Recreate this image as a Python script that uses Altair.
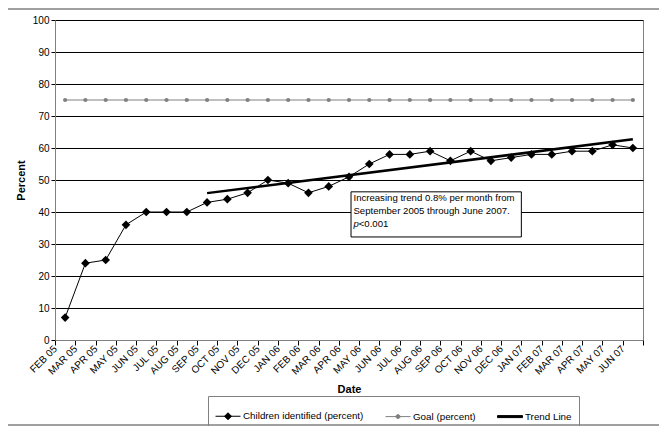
import altair as alt
import pandas as pd

months = ["FEB 05", "MAR 05", "APR 05", "MAY 05", "JUN 05", "JUL 05", "AUG 05", "SEP 05",
          "OCT 05", "NOV 05", "DEC 05", "JAN 06", "FEB 06", "MAR 06", "APR 06", "MAY 06",
          "JUN 06", "JUL 06", "AUG 06", "SEP 06", "OCT 06", "NOV 06", "DEC 06", "JAN 07",
          "FEB 07", "MAR 07", "APR 07", "MAY 07", "JUN 07"]
children = [7, 24, 25, 36, 40, 40, 40, 43, 44, 46, 50, 49, 46, 48, 51, 55,
            58, 58, 59, 56, 59, 56, 57, 58, 58, 59, 59, 61, 60]
goal = [75, 75, 75, 75, 75, 75, 75, 75, 75, 75, 75, 75, 75, 75, 75, 75,
        75, 75, 75, 75, 75, 75, 75, 75, 75, 75, 75, 75, 75]
trend_months = ["SEP 05", "JUN 07"]
trend_values = [45.9, 62.7]

series_names = ["Children identified (percent)", "Goal (percent)", "Trend Line"]
series_colors = ["#000000", "#808080", "#000000"]
legend_paths = [
    "M-1,0H1M0,-0.28L0.28,0L0,0.28L-0.28,0Z",
    "M-1,0H1M0.16,0A0.16,0.16,0,1,1,-0.16,0A0.16,0.16,0,1,1,0.16,0Z",
    "M-1,-0.08H1V0.08H-1Z",
]

note_lines = ["Increasing trend 0.8% per month from", "September 2005 through June 2007."]
note_p = "p"
note_pval = "<0.001"
# annotation anchor (x in month-slot units, y in percent)
note_box = {"x": 14.6, "x2": 23.0, "y": 46.3, "y2": 32.2}
note_text_pos = {"x": 14.72, "y1": 45.9, "y3": 37.8}

FONT = "Liberation Sans"

idx = {m: i for i, m in enumerate(months)}
df = pd.DataFrame({"pos": [i + 0.5 for i in range(len(months))],
                   "month": months, "children": children, "goal": goal})
trend_df = pd.DataFrame({"pos": [idx[m] + 0.5 for m in trend_months], "value": trend_values})
legend_df = pd.DataFrame({"series": series_names})

label_expr = "[" + ",".join("'" + m + "'" for m in months) + "][datum.value] || ''"

x_scale = alt.Scale(domain=[0, len(months)], nice=False, zero=False)
y_scale = alt.Scale(domain=[0, 100], nice=False)

x_axis = alt.Axis(values=list(range(len(months) + 1)), labelExpr=label_expr,
                  labelAngle=-45, labelAlign="right", labelBaseline="middle",
                  labelOverlap=False, labelFlush=False, labelFontSize=10, labelPadding=2,
                  tickSize=5, tickColor="#000000", domainColor="#808080", grid=False,
                  title="Date", titleFontSize=11, titleFontWeight="bold",
                  titleY=52, titleBaseline="alphabetic")
y_axis = alt.Axis(values=list(range(0, 101, 10)), labelFontSize=10, labelFlush=False,
                  labelOverlap=False,
                  tickSize=4, tickColor="#000000", domainColor="#808080",
                  grid=True, gridColor="#000000", gridWidth=1,
                  title="Percent", titleFontSize=11, titleFontWeight="bold", titlePadding=6)


def X(field):
    return alt.X(field, scale=x_scale, axis=x_axis)


def Y(field):
    return alt.Y(field, scale=y_scale, axis=y_axis)


base = alt.Chart(df)

children_line = base.mark_line(color="#000000", strokeWidth=1).encode(
    x=X("pos:Q"), y=Y("children:Q"))
children_pts = base.mark_point(shape="diamond", filled=True, color="#000000", size=75, opacity=1).encode(
    x=X("pos:Q"), y=Y("children:Q"))
goal_line = base.mark_line(color="#808080", strokeWidth=1).encode(x=X("pos:Q"), y=Y("goal:Q"))
goal_pts = base.mark_point(shape="circle", filled=True, color="#808080", size=18, opacity=1).encode(
    x=X("pos:Q"), y=Y("goal:Q"))
trend_line = alt.Chart(trend_df).mark_line(color="#000000", strokeWidth=2.5).encode(
    x=X("pos:Q"), y=Y("value:Q"))

legend_layer = alt.Chart(legend_df).mark_point(filled=True, strokeWidth=1, opacity=1).encode(
    x=alt.value(0), y=alt.value(0),
    shape=alt.Shape("series:N", scale=alt.Scale(domain=series_names, range=legend_paths),
                    legend=alt.Legend(title=None)),
    fill=alt.Fill("series:N", scale=alt.Scale(domain=series_names, range=series_colors),
                  legend=alt.Legend(title=None)),
    stroke=alt.Stroke("series:N", scale=alt.Scale(domain=series_names, range=series_colors),
                      legend=alt.Legend(title=None)),
).transform_filter("false")

note_df = pd.DataFrame([note_box])
note_rect = alt.Chart(note_df).mark_rect(fill="white", stroke="#000000", strokeWidth=1).encode(
    x=X("x:Q"), x2="x2:Q", y=Y("y:Q"), y2="y2:Q")
tp = pd.DataFrame([note_text_pos])
note_text = alt.Chart(tp).mark_text(text=note_lines, align="left", baseline="top", fontSize=9.6,
                                    lineHeight=13, font=FONT, color="#000000").encode(
    x=X("x:Q"), y=Y("y1:Q"))
note_ptxt = alt.Chart(tp).mark_text(text=note_p, align="left", baseline="top", fontSize=9.6,
                                    fontStyle="italic", font=FONT, color="#000000").encode(
    x=X("x:Q"), y=Y("y3:Q"))
note_pval_txt = alt.Chart(tp).mark_text(text=note_pval, align="left", baseline="top", fontSize=9.6,
                                        dx=5.3, font=FONT, color="#000000").encode(
    x=X("x:Q"), y=Y("y3:Q"))

frame_top = alt.Chart(legend_df.head(1)).mark_rule(color="#808080", strokeWidth=1.5).encode(
    x=alt.value(-55), x2=alt.value(605), y=alt.value(-11))
frame_bot = alt.Chart(legend_df.head(1)).mark_rule(color="#808080", strokeWidth=1.5).encode(
    x=alt.value(-55), x2=alt.value(605), y=alt.value(405))

chart = alt.layer(
    children_line, goal_line, goal_pts, trend_line, children_pts,
    note_rect, note_text, note_ptxt, note_pval_txt, legend_layer,
    frame_top, frame_bot,
).properties(
    width=588, height=320,
    autosize=alt.AutoSizeParams(type="none"),
    padding={"left": 47, "top": 12, "right": 16, "bottom": 86},
).configure(font=FONT).configure_view(
    stroke="#808080", strokeWidth=1
).configure_legend(
    orient="none", legendX=153, legendY=376, direction="horizontal",
    strokeColor="#808080", padding=7, columnPadding=19, labelOffset=2,
    labelFontSize=9.8, labelFont=FONT, symbolSize=625, symbolStrokeWidth=1,
    labelLimit=300,
)

chart.save("out.html", embed_options={"renderer": "svg", "actions": False})
